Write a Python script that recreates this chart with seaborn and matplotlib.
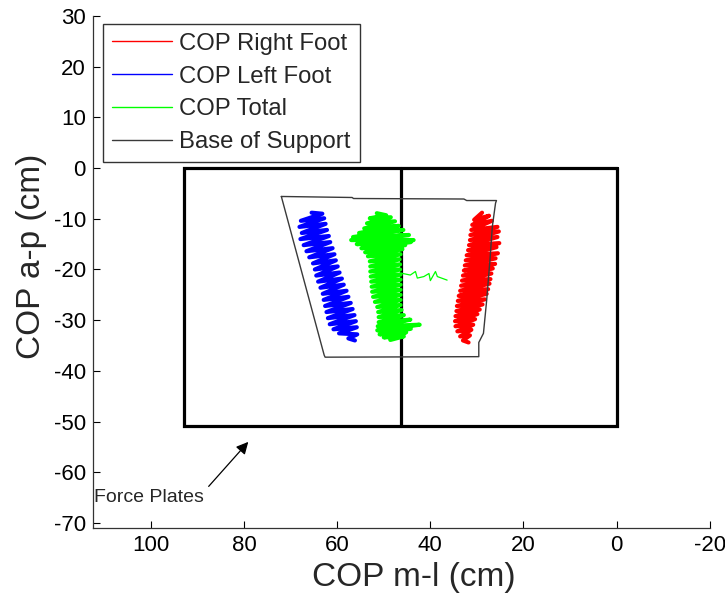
import numpy as np
import pandas as pd
import matplotlib
matplotlib.use("Agg")
import matplotlib.pyplot as plt
import seaborn as sns

# ---------------- data (cm) ----------------
# force plate layout: plate edges in m-l and a-p
plate_edges_ml = [0.0, 46.4, 92.8]
plate_edges_ap = [0.0, -50.8]

# base of support polygon
bos_x = [72.0, 56.8, 56.5, 32.8, 32.2, 25.8, 26.0, 26.3, 26.7, 27.2, 27.9, 28.6, 29.6, 29.6, 62.6, 62.8, 72.0]
bos_y = [-5.6, -5.8, -6.0, -6.1, -6.4, -6.4, -6.9, -8.9, -11.6, -18.1, -26.0, -32.6, -34.4, -37.2, -37.3, -36.9, -5.6]

# COP left foot (blue)
left_x = [65.5, 63.2, 67.8, 62.8, 68.1, 62.5, 67.6, 62.2, 67.9, 61.8, 67.2, 61.5, 66.6, 61.0, 66.0, 60.6,
          65.2, 60.3, 64.8, 59.9, 64.5, 59.5, 64.1, 59.0, 63.6, 58.6, 63.1, 58.0, 62.9, 57.6, 62.6, 57.1,
          62.3, 56.7, 62.0, 56.3, 61.6, 56.0, 60.8, 55.8, 59.6, 55.7, 57.6, 56.2]
left_y = [-8.8, -9.0, -10.4, -9.9, -11.6, -11.0, -12.8, -12.2, -14.0, -13.4, -15.2, -14.6, -16.4, -15.8, -17.6, -17.0,
          -18.8, -18.2, -20.0, -19.4, -21.2, -20.6, -22.4, -21.8, -23.6, -23.0, -24.8, -24.2, -26.0, -25.4, -27.2, -26.6,
          -28.4, -27.8, -29.6, -29.0, -30.8, -30.2, -31.8, -31.4, -32.6, -32.8, -33.6, -34.0]

# COP right foot (red)
right_x = [28.9, 30.6, 27.4, 31.0, 26.8, 31.2, 25.6, 31.4, 25.3, 31.5, 25.6, 31.7, 25.2, 31.9, 25.8, 32.2,
           25.5, 32.4, 26.0, 32.6, 26.1, 32.8, 26.6, 33.0, 26.9, 33.2, 27.1, 33.4, 27.3, 33.6, 27.6, 33.9,
           27.9, 34.1, 28.3, 34.3, 28.8, 34.4, 29.4, 34.6, 29.9, 34.7, 30.4, 34.6, 30.8, 34.2, 31.2, 33.6,
           31.5, 33.0, 31.8]
right_y = [-8.8, -10.2, -9.4, -11.2, -10.4, -12.2, -11.6, -13.2, -12.5, -14.2, -13.6, -15.2, -14.8, -16.2, -15.6, -17.2,
           -16.8, -18.2, -17.8, -19.2, -18.9, -20.2, -19.8, -21.2, -20.8, -22.2, -21.9, -23.2, -22.8, -24.2, -23.9, -25.2,
           -24.8, -26.2, -25.9, -27.2, -26.9, -28.2, -27.9, -29.2, -28.8, -30.2, -29.8, -31.2, -30.9, -32.2, -31.9, -33.2,
           -33.0, -34.0, -34.4]

# COP total (green), main band
total_x = [51.5, 49.5, 53.0, 48.5, 53.6, 47.6, 54.2, 46.8, 55.3, 45.8, 56.6, 44.6, 57.0, 43.6, 55.8, 44.2,
           54.8, 45.4, 54.0, 46.0, 53.4, 46.4, 53.0, 46.6, 52.9, 46.5, 52.9, 46.5,
           52.8, 46.4, 52.7, 46.4, 52.6, 46.4, 52.5, 46.4, 52.3, 46.4, 51.9, 46.4, 51.4, 46.4, 51.2, 46.2,
           51.1, 45.7, 51.1, 44.3, 51.3, 42.3, 51.4, 44.2, 50.9, 45.2, 50.0, 45.7, 48.6]
total_y = [-8.9, -9.3, -9.9, -9.7, -10.9, -10.5, -11.9, -11.4, -12.8, -12.2, -13.6, -13.2, -14.2, -14.2, -15.0, -14.6,
           -15.8, -15.2, -16.6, -16.0, -17.4, -17.0, -18.4, -18.0, -19.4, -19.0, -20.4, -20.0,
           -21.4, -21.0, -22.4, -22.0, -23.4, -23.0, -24.4, -24.0, -25.4, -25.0, -26.4, -26.0, -27.4, -27.0, -28.4, -28.0,
           -29.4, -29.0, -30.4, -29.9, -31.2, -30.9, -32.0, -31.7, -32.8, -32.4, -33.4, -33.2, -33.9]
# COP total, lateral excursion
exc_x = [46.4, 44.3, 43.2, 42.8, 41.4, 40.3, 40.0, 38.9, 38.5, 36.4]
exc_y = [-20.7, -21.1, -20.4, -21.7, -21.4, -20.8, -22.2, -20.4, -21.4, -22.1]

# annotation
note_text = "Force Plates"
note_xy = (112.2, -65.0)
arrow_tail = (88.0, -63.2)
arrow_head = (78.7, -53.6)

x_ticks = [100, 80, 60, 40, 20, 0, -20]
y_ticks = [30, 20, 10, 0, -10, -20, -30, -40, -50, -60, -70]

# ---------------- plotting ----------------
sns.set_style("ticks")
plt.rcParams["font.family"] = ["Liberation Sans", "DejaVu Sans"]

fig = plt.figure(figsize=(7.25, 5.93), dpi=100)
ax = fig.add_axes([0.1279, 0.1096, 0.979 - 0.1279, 0.973 - 0.1096])

RED, BLUE, GREEN, GRAY = "#ff0000", "#0000ff", "#00ff00", "#3a3a3a"
TRACE_LW = 3.0

sns.lineplot(x=right_x, y=right_y, sort=False, estimator=None, color=RED, lw=TRACE_LW, ax=ax, label="COP Right Foot")
sns.lineplot(x=left_x, y=left_y, sort=False, estimator=None, color=BLUE, lw=TRACE_LW, ax=ax, label="COP Left Foot")
sns.lineplot(x=total_x, y=total_y, sort=False, estimator=None, color=GREEN, lw=TRACE_LW, ax=ax, label="COP Total")
sns.lineplot(x=exc_x, y=exc_y, sort=False, estimator=None, color=GREEN, lw=0.9, ax=ax)
sns.lineplot(x=bos_x, y=bos_y, sort=False, estimator=None, color=GRAY, lw=1.0, ax=ax, label="Base of Support")

# force plates
x0, xm, x1 = plate_edges_ml
yt, yb = plate_edges_ap
ax.plot([x0, x1, x1, x0, x0], [yt, yt, yb, yb, yt], color="black", lw=2.3, solid_joinstyle="miter", zorder=1)
ax.plot([xm, xm], [yt, yb], color="black", lw=2.3, zorder=1)

ax.annotate("", xy=arrow_head, xytext=arrow_tail,
            arrowprops=dict(arrowstyle="-|>", color="black", lw=0.9, mutation_scale=18))
ax.text(note_xy[0], note_xy[1], note_text, fontsize=14, ha="left", va="center")

ax.set_xlim(112.5, -20)
ax.set_ylim(-71, 30)
ax.set_xticks(x_ticks)
ax.set_yticks(y_ticks)
ax.set_xticklabels([str(t) for t in x_ticks])
ax.set_yticklabels([str(t) for t in y_ticks])
ax.tick_params(direction="in", length=5, width=0.8, labelsize=16, pad=5, colors="black")
ax.spines["top"].set_visible(False)
ax.spines["right"].set_visible(False)
for s in ("left", "bottom"):
    ax.spines[s].set_color("#333333")
    ax.spines[s].set_linewidth(0.9)

ax.set_xlabel("COP m-l (cm)", fontsize=24, labelpad=4)
ax.set_ylabel("COP a-p (cm)", fontsize=24, labelpad=4.5)
ax.xaxis.label.set_x(0.52)
ax.yaxis.label.set_y(0.53)

leg = ax.legend(loc="upper left", bbox_to_anchor=(0.017, 0.985), fontsize=17.2, frameon=True,
                fancybox=False, edgecolor="black", handlelength=2.5, handletextpad=0.3,
                labelspacing=0.45, borderpad=0.38, borderaxespad=0)
leg.get_frame().set_linewidth(1.0)
for h in leg.get_lines():
    h.set_linewidth(1.0)

fig.savefig("out.png", dpi=100)
